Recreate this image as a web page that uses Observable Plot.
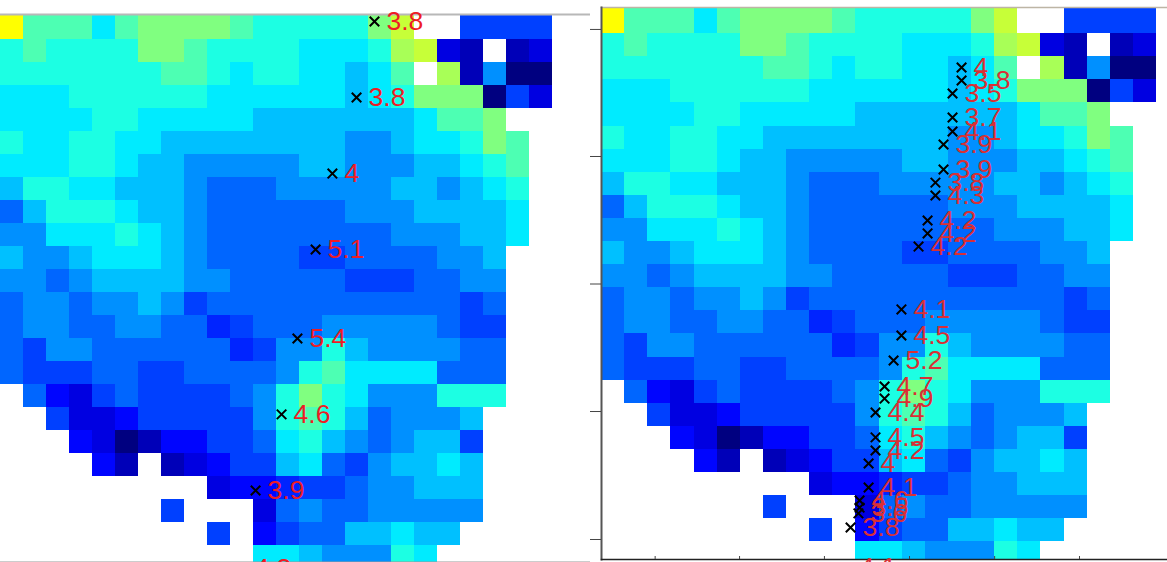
<!DOCTYPE html>
<html>
<head>
<meta charset="utf-8">
<script src="https://cdn.jsdelivr.net/npm/d3@7"></script>
<script src="https://cdn.jsdelivr.net/npm/@observablehq/plot@0.6"></script>
<style>
html,body{margin:0;padding:0;background:#fff;overflow:hidden;width:1167px;height:562px}
#left,#right{position:absolute;top:0}
#left{left:0}#right{left:590px}
svg{display:block;background:transparent}
</style>
</head>
<body>
<div id="left"></div><div id="right"></div>
<script>
const n = null;
// Heat levels per grid row (n = no data)
const grid = [
[15,11,11,11, 9,11,12,12,12,12,11,10,10,10,10,10,12,14, n, n, 5, 5, 5, 5],
[10,11,10,10,10,10,12,12,11,10,10,10,10, 9, 9, 9,10,13,14, 2, 1, n, 1, 2],
[10,10,10,10,10,10,10,11,11,10, 9,10,10, 9, 9, 8, 9,11, n,13, 1, 7, 0, 0],
[ 9, 9, 9,10,10,10,10,10,10, 9, 9, 9, 9, 9, 9, 8, 9,10,12,12,12, 0, 5, 2],
[ 9, 9, 9, 9,10,10, 9, 9, 9, 9, 9, 8, 8, 8, 8, 8, 8, 8, 9,11,11,12, n, n],
[10, 9, 9,10,10, 9, 9, 8, 8, 8, 8, 8, 8, 8, 8, 7, 7, 8, 9, 9,10,12,11, n],
[ 9, 9, 9,10,10, 9, 8, 8, 7, 7, 7, 7, 7, 8, 8, 7, 7, 7, 8, 8, 9,10,11, n],
[ 8,10,10, 9, 9, 8, 8, 8, 7, 6, 6, 6, 7, 7, 7, 7, 7, 8, 8, 7, 8, 9,10, n],
[ 6, 8,10,10,10, 9, 8, 8, 7, 6, 6, 6, 6, 6, 6, 7, 7, 7, 8, 8, 8, 8, 9, n],
[ 7, 7, 9, 9, 9,10, 9, 8, 7, 6, 6, 6, 6, 6, 6, 6, 6, 7, 7, 7, 8, 8, 9, n],
[ 8, 7, 7, 8, 9, 9, 9, 8, 7, 6, 6, 6, 6, 5, 5, 6, 6, 6, 6, 7, 7, 8, n, n],
[ 7, 7, 6, 7, 8, 8, 8, 8, 7, 7, 6, 6, 6, 6, 6, 5, 5, 5, 6, 6, 7, 7, n, n],
[ 6, 7, 7, 6, 7, 7, 8, 7, 5, 6, 6, 6, 6, 6, 6, 6, 6, 6, 6, 6, 5, 6, n, n],
[ 6, 7, 7, 6, 6, 7, 7, 6, 6, 4, 5, 6, 6, 6, 7, 7, 7, 7, 7, 6, 5, 5, n, n],
[ 6, 5, 7, 7, 6, 6, 6, 6, 6, 6, 4, 5, 7, 7,10, 8, 7, 7, 7, 7, 6, 6, n, n],
[ 6, 5, 5, 5, 6, 6, 5, 5, 6, 6, 6, 6, 7,10,11, 9, 9, 9, 9, 6, 6, 6, n, n],
[ n, 6, 3, 2, 5, 6, 5, 5, 5, 5, 6, 7,10,12,10, 9, 7, 7, 7,10,10,10, n, n],
[ n, n, 5, 2, 2, 3, 5, 5, 5, 5, 5, 7,10,11,10, 8, 6, 7, 7, 7, 8, n, n, n],
[ n, n, n, 3, 2, 0, 1, 3, 3, 5, 5, 6, 9,10, 8, 7, 6, 7, 8, 8, 5, n, n, n],
[ n, n, n, n, 3, 1, n, 1, 2, 3, 5, 5, 8, 9, 6, 5, 7, 8, 8, 9, 8, n, n, n],
[ n, n, n, n, n, n, n, n, n, 2, 3, 3, 4, 5, 5, 6, 7, 7, 8, 8, 8, n, n, n],
[ n, n, n, n, n, n, n, 5, n, n, n, 2, 6, 7, 6, 6, 7, 7, 7, 7, 7, n, n, n],
[ n, n, n, n, n, n, n, n, n, 5, n, 3, 5, 6, 6, 8, 8, 9, 8, 8, n, n, n, n],
[ n, n, n, n, n, n, n, n, n, n, n, 9, 9, 8, 7, 7, 7,10, 9, n, n, n, n, n]
];
const levelValues = [0,.055,.095,.13,.16,.1875,.225,.266,.313,.355,.402,.45,.5,.54,.57,.625];
const jetStops = [0,.125,.375,.625,.875,1];
const jetColors = ["#000080","#0000ff","#00ffff","#ffff00","#ff0000","#800000"];

// Left panel: markers
const leftCol = [16.26,15.48,14.43,13.70,12.91,12.22,11.09,10.52];
const leftRow = [0.22,3.52,6.83,10.13,14.0,17.3,20.61,24.0];
const leftLabel = ["3.8","3.8","4","5.1","5.4","4.6","3.9","4.2"];

// Right panel: markers
const rightCol = [15.57,15.57,15.18,15.18,15.18,14.79,14.79,14.44,14.44,14.10,14.10,13.71,12.97,12.97,12.63,12.24,12.24,11.85,11.85,11.85,11.55,11.55,11.16,11.16,11.11,10.77,10.64];
const rightRow = [2.47,3.03,3.59,4.63,5.24,5.80,6.88,7.45,8.01,9.09,9.65,10.22,12.94,14.07,15.15,16.28,16.80,17.40,18.48,19.05,19.61,20.65,21.21,21.52,21.77,22.38,24.11];
const rightLabel = ["4","3.8","3.5","3.7","4.1","3.9","3.9","3.8","4.3","4.2","4.2","4.2","4.1","4.5","5.2","4.7","4.9","4.4","4.5","4.2","4","4.1","4.6","3.5","3.6","3.8","4.1"];

const xTicks = [2.32,5.97,9.64,13.32,17.0,20.67];
const yTicks = [0.82,6.32,11.84,17.36,22.9];

const cells = [];
grid.forEach((r, row) => r.forEach((lv, col) => {
  if (lv !== null) cells.push({col, row, v: levelValues[lv]});
}));
const zip = (c, r, l) => c.map((col, i) => ({col, row: r[i], label: l[i]}));

function panel({width, marginLeft, marginTop, marginBottom, xMax, yRange, markers, textFill, extra}) {
  return Plot.plot({
    width, height: 562, marginLeft, marginRight: 0, marginTop, marginBottom,
    style: {background: "transparent", fontFamily: "'Liberation Sans', sans-serif"},
    x: {domain: [0, xMax], axis: null},
    y: {domain: [0, 24], range: yRange, axis: null},
    color: {type: "linear", domain: jetStops, range: jetColors, clamp: true},
    marks: [
      Plot.rect(cells, {
        x1: "col", x2: d => d.col + 1,
        y1: d => d.row === 0 ? -0.25 : d.row, y2: d => d.row + 1,
        fill: "v", clip: true, shapeRendering: "crispEdges"
      }),
      ...extra,
      Plot.dot(markers, {x: "col", y: "row", symbol: "times", r: 4.4, stroke: "#000", strokeWidth: 2}),
      Plot.text(markers, {x: "col", y: "row", text: "label", dx: 12, textAnchor: "start",
        fontSize: 26.5, fill: textFill, lineAnchor: "middle"})
    ]
  });
}

document.getElementById("left").append(panel({
  width: 590, marginLeft: 0, marginTop: 14, marginBottom: 0,
  xMax: 590 / 23, yRange: [16, 568],
  markers: zip(leftCol, leftRow, leftLabel), textFill: "#ee1c25",
  extra: [
    Plot.frame({anchor: "top", stroke: "#b8b8b8", strokeWidth: 2}),
    Plot.frame({anchor: "bottom", stroke: "#999", strokeWidth: 2})
  ]
}));

document.getElementById("right").append(panel({
  width: 577, marginLeft: 11, marginTop: 7, marginBottom: 3,
  xMax: 566 / 23.125, yRange: [10, 564.4],
  markers: zip(rightCol, rightRow, rightLabel), textFill: "#d92f35",
  extra: [
    Plot.frame({anchor: "top", stroke: "#bdb5a5", strokeWidth: 1.5}),
    Plot.frame({anchor: "left", stroke: "#555", strokeWidth: 2}),
    Plot.frame({anchor: "bottom", stroke: "#222", strokeWidth: 1.5}),
    Plot.axisY({ticks: yTicks, tickFormat: () => "", tickSize: 11, label: null, anchor: "left", stroke: "#444"}),
    Plot.axisX({ticks: xTicks, tickFormat: () => "", tickSize: -3, label: null, anchor: "bottom", stroke: "#444"})
  ]
}));
</script>
</body>
</html>
